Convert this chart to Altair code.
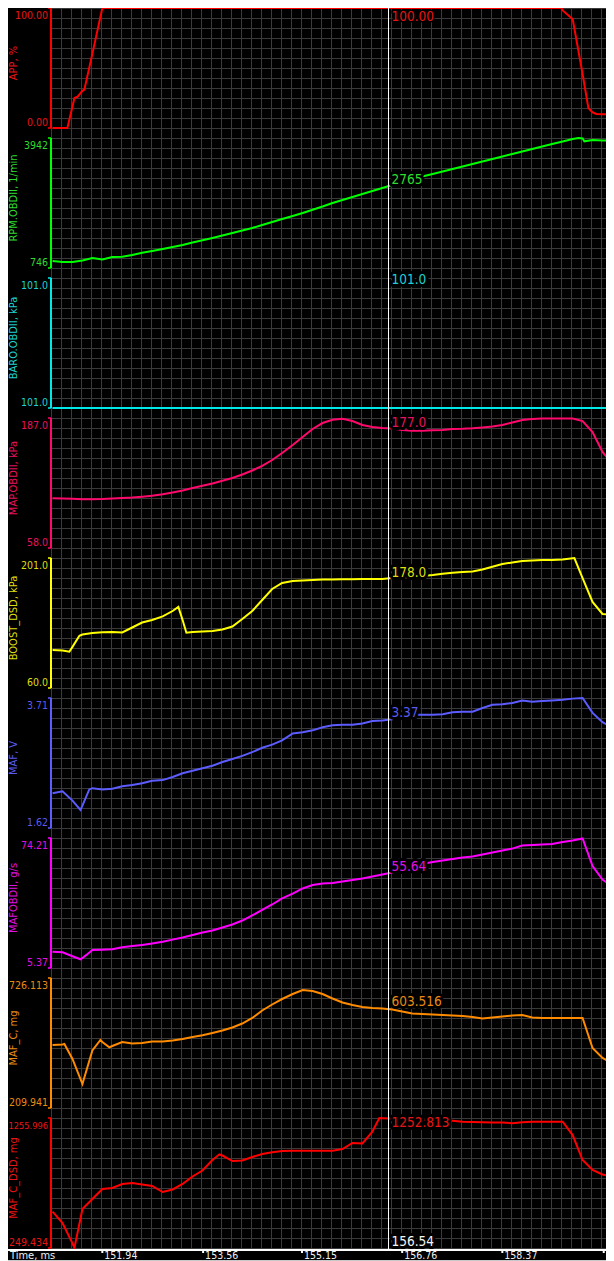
import altair as alt
import pandas as pd

# ---------------- data ----------------
TIME = [151.14, 151.30, 151.46, 151.62, 151.78, 151.94, 152.10, 152.26, 152.42, 152.58,
        152.74, 152.91, 153.07, 153.23, 153.39, 153.55, 153.71, 153.87, 154.03, 154.19,
        154.35, 154.51, 154.67, 154.83, 155.00, 155.16, 155.32, 155.48, 155.64, 155.80,
        155.96, 156.12, 156.28, 156.44, 156.60, 156.76, 156.92, 157.08, 157.25, 157.41,
        157.57, 157.73, 157.89, 158.05, 158.21, 158.37, 158.53, 158.69, 158.85, 159.01,
        159.17, 159.34, 159.50, 159.66, 159.82, 159.98, 160.14, 160.30]

APP = [0, 0, 18, 31, 62, 100, 100, 100, 100, 100,
       100, 100, 100, 100, 100, 100, 100, 100, 100, 100,
       100, 100, 100, 100, 100, 100, 100, 100, 100, 100,
       100, 100, 100, 100, 100, 100, 100, 100, 100, 100,
       100, 100, 100, 100, 100, 100, 100, 100, 100, 100,
       100, 98, 91, 45, 13, 11.5, 11.5, 11.5]
APP_EXTRA_T = [151.378, 151.491, 151.540, 151.651, 159.319, 159.480, 159.753, 159.882]
APP_EXTRA_V = [0, 25, 26, 32, 100, 91.7, 16.7, 11.7]

RPM = [918, 894, 894, 930, 992, 955, 1016, 1024, 1066, 1122,
       1164, 1213, 1262, 1311, 1373, 1427, 1484, 1545, 1606, 1668,
       1729, 1803, 1877, 1951, 2024, 2098, 2179, 2258, 2344, 2418,
       2492, 2565, 2639, 2714, 2787, 2848, 2922, 2996, 3057, 3118,
       3180, 3241, 3303, 3364, 3426, 3487, 3549, 3610, 3672, 3733,
       3795, 3856, 3917, 3930, 3893, 3881, 3876, 3876]
RPM_EXTRA_T = [159.593, 159.689]
RPM_EXTRA_V = [3942, 3861]

BARO = [101.0, 101.0, 101.0, 101.0, 101.0, 101.0, 101.0, 101.0, 101.0, 101.0,
        101.0, 101.0, 101.0, 101.0, 101.0, 101.0, 101.0, 101.0, 101.0, 101.0,
        101.0, 101.0, 101.0, 101.0, 101.0, 101.0, 101.0, 101.0, 101.0, 101.0,
        101.0, 101.0, 101.0, 101.0, 101.0, 101.0, 101.0, 101.0, 101.0, 101.0,
        101.0, 101.0, 101.0, 101.0, 101.0, 101.0, 101.0, 101.0, 101.0, 101.0,
        101.0, 101.0, 101.0, 101.0, 101.0, 101.0, 101.0, 101.0]

MAP = [107.3, 107.1, 106.8, 106.3, 106.4, 106.6, 107.1, 107.6, 108.1, 108.9,
       109.9, 111.3, 113.1, 115.1, 117.5, 119.7, 122.0, 124.7, 127.5, 130.9,
       134.9, 139.4, 145.3, 152.3, 160.2, 168.1, 176.1, 182.0, 185.2, 186.2,
       184.0, 180.1, 178.1, 177.1, 176.6, 175.1, 174.4, 174.4, 174.8, 175.1,
       176.1, 176.3, 176.8, 177.6, 178.6, 180.1, 182.5, 185.0, 186.0, 186.5,
       186.5, 186.5, 186.5, 184.0, 173.1, 153.3, 141.4, 135.4]

BOOST = [101.2, 100.7, 104.6, 118.0, 119.7, 120.4, 120.7, 120.2, 125.6, 131.0,
         133.8, 137.6, 143.5, 133.8, 120.7, 121.3, 121.8, 123.5, 126.7, 134.8,
         143.5, 155.4, 167.4, 173.9, 176.1, 176.6, 177.1, 177.7, 177.7, 178.0,
         178.0, 178.2, 178.2, 178.2, 179.3, 180.4, 180.9, 181.5, 182.6, 184.0,
         185.1, 185.8, 186.4, 188.5, 191.6, 194.5, 196.1, 197.7, 198.3, 198.8,
         198.8, 199.4, 200.8, 179.3, 153.3, 140.3, 139.2, 139.2]
BOOST_EXTRA_T = [151.410, 151.571, 153.162, 153.291, 159.528]
BOOST_EXTRA_V = [99.4, 116.7, 147.9, 120.0, 201.0]

MAF_V = [2.18, 2.21, 2.06, 1.98, 2.26, 2.24, 2.25, 2.29, 2.31, 2.34,
         2.38, 2.39, 2.44, 2.50, 2.54, 2.58, 2.62, 2.68, 2.73, 2.78,
         2.84, 2.91, 2.96, 3.03, 3.14, 3.16, 3.19, 3.24, 3.27, 3.28,
         3.28, 3.30, 3.34, 3.35, 3.37, 3.41, 3.44, 3.44, 3.44, 3.45,
         3.48, 3.49, 3.49, 3.55, 3.60, 3.61, 3.63, 3.67, 3.65, 3.66,
         3.67, 3.68, 3.70, 3.71, 3.47, 3.32, 3.24, 3.18]
MAF_V_EXTRA_T = [151.588, 151.730]
MAF_V_EXTRA_V = [1.91, 2.24]

MAF_GS = [14.0, 13.7, 11.6, 10.7, 14.9, 15.1, 15.3, 16.3, 17.0, 17.6,
          18.3, 19.3, 20.4, 21.5, 22.8, 24.2, 25.2, 26.8, 28.4, 30.5,
          33.2, 36.1, 39.0, 42.2, 44.8, 47.5, 49.3, 50.1, 50.4, 51.2,
          52.0, 52.8, 53.8, 54.9, 55.9, 57.8, 59.1, 60.4, 61.5, 62.3,
          63.1, 63.9, 64.4, 65.5, 66.5, 67.6, 68.6, 70.2, 70.5, 70.8,
          71.0, 72.1, 72.9, 74.0, 59.4, 52.2, 48.5, 46.7]
MAF_GS_EXTRA_T = [151.588, 151.684]
MAF_GS_EXTRA_V = [9.98, 12.3]

MAF_C = [460.1, 462.1, 404.5, 305.2, 438.2, 472.0, 456.1, 472.0, 466.0, 468.0,
         474.0, 474.0, 478.0, 483.9, 491.9, 498.6, 507.7, 517.7, 529.6, 545.4,
         567.3, 597.1, 620.9, 642.7, 662.6, 678.5, 674.5, 662.6, 644.7, 628.8,
         618.9, 611.0, 607.0, 605.0, 601.0, 593.1, 585.2, 583.2, 581.2, 579.2,
         577.2, 575.2, 571.3, 565.3, 569.3, 573.2, 577.2, 579.2, 569.3, 567.3,
         567.3, 567.3, 567.3, 567.3, 448.2, 408.5, 386.6, 376.7]
MAF_C_EXTRA_T = [151.330, 151.909, 152.053]
MAF_C_EXTRA_V = [464.1, 479.9, 450.9]

MAF_C_DSD = [530.5, 443.0, 285.0, 551.4, 628.8, 706.3, 714.0, 745.0, 752.7, 741.1,
             729.5, 683.0, 702.4, 745.0, 803.0, 849.5, 930.8, 965.6, 923.0, 926.9,
             954.0, 977.2, 990.4, 1000.5, 1002.8, 1002.8, 1002.8, 1002.8, 1002.8, 1016.0,
             1062.4, 1058.5, 1150.0, 1255.0, 1253.0, 1248.0, 1244.0, 1240.5, 1238.0, 1236.6,
             1235.0, 1227.4, 1225.0, 1222.7, 1221.0, 1221.0, 1215.0, 1222.7, 1226.6, 1227.4,
             1227.4, 1227.4, 1124.0, 930.8, 853.4, 818.5, 803.0, 799.2]
MAF_C_DSD_EXTRA_T = [151.491, 153.822, 156.265, 156.393]
MAF_C_DSD_EXTRA_V = [249.5, 975.0, 1140.0, 1256.0]

TITLES = ["APP, %", "RPM.OBDII, 1/min", "BARO.OBDII, kPa", "MAP.OBDII, kPa",
          "BOOST_DSD, kPa", "MAF, V", "MAFOBDII, g/s", "MAF_C, mg", "MAF_C_DSD, mg"]
SERIES = [APP, RPM, BARO, MAP, BOOST, MAF_V, MAF_GS, MAF_C, MAF_C_DSD]
EXTRAS = [(APP_EXTRA_T, APP_EXTRA_V), (RPM_EXTRA_T, RPM_EXTRA_V), ([], []), ([], []),
          (BOOST_EXTRA_T, BOOST_EXTRA_V), (MAF_V_EXTRA_T, MAF_V_EXTRA_V),
          (MAF_GS_EXTRA_T, MAF_GS_EXTRA_V), (MAF_C_EXTRA_T, MAF_C_EXTRA_V),
          (MAF_C_DSD_EXTRA_T, MAF_C_DSD_EXTRA_V)]
Y_MIN = [0.0, 746, 101.0, 58.0, 60.0, 1.62, 5.37, 209.941, 249.434]
Y_MAX = [100.0, 3942, 101.0, 187.0, 201.0, 3.71, 74.21, 726.113, 1255.996]
FORMATS = [".2f", ".0f", ".1f", ".1f", ".1f", ".2f", ".2f", ".3f", ".3f"]
CURSOR_TIME = 156.54
CURSOR_VALUES = [100.00, 2765, 101.0, 177.0, 178.0, 3.37, 55.64, 603.516, 1252.813]
X_TICKS = [151.94, 153.56, 155.15, 156.76, 158.37, 160.00]
X_TITLE = "Time, ms"

# ---------------- styles / layout ----------------
LINE_COLORS = ["#ff0000", "#00ff00", "#00e8e8", "#ff0a6c", "#ffff00",
               "#5c5cff", "#ff00ff", "#ff8c00", "#ff0000"]
TEXT_COLORS = ["#e81515", "#2fdc2f", "#1ed2d2", "#e8125e", "#dede10",
               "#5a5af0", "#e010e0", "#e88a14", "#e81515"]
LABEL_DY = [9, -6, -128, -5, -6, -6, -6, -7, 5]
HALO_W = [3, 6, 6, 6, 6, 6, 6, 6, 6]
FONT = "DejaVu Sans Condensed, DejaVu Sans"
GRID = "#3a3a3a"
PLOT_W, PLOT_H = 555, 1241
PAD_LEFT = 43
PX_MS = 0.016075                       # ms per pixel
X_START = CURSOR_TIME - 337.5 * PX_MS  # puts the cursor on a pixel centre
X_DOMAIN = [X_START, X_START + PLOT_W * PX_MS]
CSS = "html,body{background:#000}"

xscale = alt.Scale(domain=X_DOMAIN, nice=False, zero=False)
X_T = alt.X("t:Q", scale=xscale, axis=None)

panels = []
for i, (vals, ext, title, lo, hi, fmt, cv, lc, tc, dy, hw) in enumerate(zip(
        SERIES, EXTRAS, TITLES, Y_MIN, Y_MAX, FORMATS, CURSOR_VALUES,
        LINE_COLORS, TEXT_COLORS, LABEL_DY, HALO_W)):
    top = max(0, 140 * i - 10)
    bottom = 140 * i + 120
    hi_eff = hi if hi > lo else lo + 0.04
    ysc = alt.Scale(domain=[lo, hi_eff], range=[bottom, top], nice=False, zero=False)

    def Y(field):
        return alt.Y(field, scale=ysc, axis=None)

    df = pd.DataFrame({"t": TIME + list(ext[0]), "v": vals + list(ext[1])}).sort_values("t")
    line = alt.Chart(df).mark_line(color=lc, strokeWidth=2, clip=True).encode(
        x=X_T, y=Y("v:Q"), order="t:Q")

    bracket = alt.Chart(pd.DataFrame({"lo": [lo], "hi": [hi_eff]})).mark_rule(
        color=lc, strokeWidth=2).encode(x=alt.value(0), y=Y("lo:Q"), y2="hi:Q")
    caps = alt.Chart(pd.DataFrame({"v": [lo, hi_eff]})).mark_rule(
        color=lc, strokeWidth=1.5).encode(x=alt.value(-3), x2=alt.value(0), y=Y("v:Q"))
    s_hi, s_lo = format(hi, fmt), format(lo, fmt)
    top_lbl = alt.Chart(pd.DataFrame({"v": [hi_eff], "s": [s_hi]})).mark_text(
        align="right", baseline="alphabetic", dy=11, font=FONT,
        fontSize=10.5 if len(s_hi) < 8 else 9.2,
        color=tc).encode(x=alt.value(-3), y=Y("v:Q"), text="s:N")
    bot_lbl = alt.Chart(pd.DataFrame({"v": [lo], "s": [s_lo]})).mark_text(
        align="right", baseline="alphabetic", dy=-2, font=FONT,
        fontSize=10.5 if len(s_lo) < 8 else 9.2,
        color=tc).encode(x=alt.value(-3), y=Y("v:Q"), text="s:N")
    title_t = alt.Chart(pd.DataFrame({"v": [(lo + hi_eff) / 2], "s": [title]})).mark_text(
        angle=270, align="center", baseline="middle", dx=5, font=FONT, fontSize=11,
        color=tc).encode(x=alt.value(-37), y=Y("v:Q"), text="s:N")

    ldf = pd.DataFrame({"t": [CURSOR_TIME], "v": [cv], "s": [format(cv, fmt)]})
    halo = alt.Chart(ldf).mark_text(align="left", baseline="middle", dx=3, dy=dy,
                                    font=FONT, fontSize=13.5, color="#000000",
                                    stroke="#000000", strokeWidth=hw,
                                    strokeJoin="round").encode(x=X_T, y=Y("v:Q"), text="s:N")
    txt = alt.Chart(ldf).mark_text(align="left", baseline="middle", dx=3, dy=dy,
                                   font=FONT, fontSize=13.5, color=tc).encode(
        x=X_T, y=Y("v:Q"), text="s:N")
    panels.append(alt.layer(line, halo, txt, bracket, caps, top_lbl, bot_lbl, title_t))

# bottom time axis, drawn with marks
tick_df = pd.DataFrame({"t": X_TICKS, "s": [f"{t:.2f}" for t in X_TICKS]})
axis_line = alt.Chart(tick_df).mark_rule(color="#ffffff", strokeWidth=1.5).encode(
    x=alt.value(-PAD_LEFT), x2=alt.value(PLOT_W), y=alt.value(PLOT_H + 0.75))
bottom_border = alt.Chart(tick_df).mark_rule(color="#c8c8c8", strokeWidth=1).encode(
    x=alt.value(-PAD_LEFT), x2=alt.value(PLOT_W), y=alt.value(PLOT_H + 11.5))
ticks = alt.Chart(tick_df).mark_rule(color="#ffffff", strokeWidth=2).encode(
    x=X_T, y=alt.value(PLOT_H), y2=alt.value(PLOT_H + 4))
tick_lbl = alt.Chart(tick_df).mark_text(align="left", baseline="alphabetic", dx=2,
                                        font=FONT, fontSize=10.5, color="#f0f0f0").encode(
    x=X_T, y=alt.value(PLOT_H + 10), text="s:N")
x_title = alt.Chart(tick_df.head(1)).mark_text(align="left", baseline="alphabetic",
                                               font=FONT, fontSize=11, color="#f0f0f0").encode(
    x=alt.value(-41), y=alt.value(PLOT_H + 10), text=alt.value(X_TITLE))

tdf = pd.DataFrame({"t": [CURSOR_TIME], "s": [f"{CURSOR_TIME:.2f}"]})
t_halo = alt.Chart(tdf).mark_text(align="left", baseline="middle", dx=3, font=FONT,
                                  fontSize=13.5, color="#000000", stroke="#000000",
                                  strokeWidth=6, strokeJoin="round").encode(
    x=X_T, y=alt.value(PLOT_H - 7), text="s:N")
t_txt = alt.Chart(tdf).mark_text(align="left", baseline="middle", dx=3, font=FONT,
                                 fontSize=13.5, color="#f4f4f4").encode(
    x=X_T, y=alt.value(PLOT_H - 7), text="s:N")
cursor = alt.Chart(tdf).mark_rule(color="#ffffff", strokeWidth=1).encode(
    x=X_T, y=alt.value(0), y2=alt.value(PLOT_H))

series = alt.layer(*panels, axis_line, bottom_border, ticks, tick_lbl, x_title,
                   t_halo, t_txt, cursor).resolve_scale(y="independent")

gdf = pd.DataFrame({"gx": [0], "gy": [0]})
grid_axis = dict(grid=True, gridColor=GRID, gridWidth=1, gridOpacity=1, labels=False,
                 ticks=False, domain=False, title=None)
grid = alt.Chart(gdf).mark_point(opacity=0).encode(
    x=alt.X("gx:Q", scale=alt.Scale(domain=[0, PLOT_W], nice=False, zero=False),
            axis=alt.Axis(values=list(range(0, PLOT_W, 10)), orient="top", **grid_axis)),
    y=alt.Y("gy:Q", scale=alt.Scale(domain=[0, PLOT_H], reverse=True, nice=False, zero=False),
            axis=alt.Axis(values=list(range(0, PLOT_H, 10)), orient="right", **grid_axis)),
)

chart = alt.layer(grid, series).resolve_scale(x="independent", y="independent").properties(
    width=PLOT_W, height=PLOT_H, background="#000000",
    padding={"left": PAD_LEFT, "top": 0, "right": 0, "bottom": 12},
    autosize=alt.AutoSizeParams(type="none"),
    usermeta={"embedOptions": {"defaultStyle": CSS}},
).configure_view(stroke=None)

chart.save("out.html", embed_options={"renderer": "svg", "actions": False})
